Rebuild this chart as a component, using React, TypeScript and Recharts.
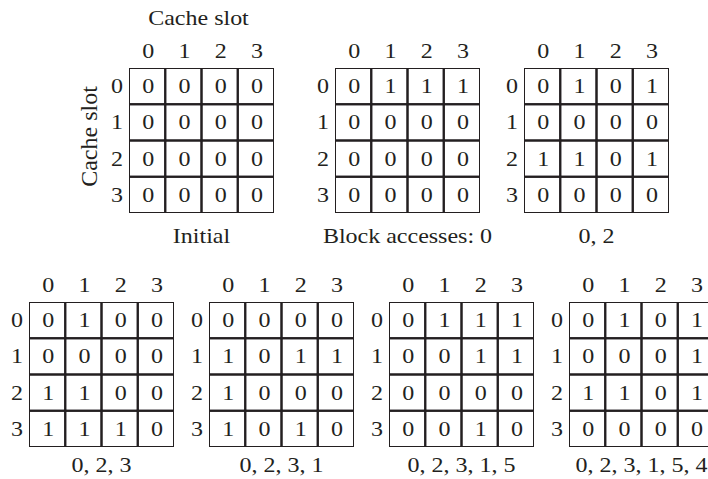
import React from 'react';
import { ScatterChart, Scatter, XAxis, YAxis, Label } from 'recharts';

// cache slot indices (rows and columns)
const SLOTS = [0, 1, 2, 3];

// matrix state after each sequence of block accesses
const INITIAL = [
  [0, 0, 0, 0],
  [0, 0, 0, 0],
  [0, 0, 0, 0],
  [0, 0, 0, 0],
];
const AFTER_0 = [
  [0, 1, 1, 1],
  [0, 0, 0, 0],
  [0, 0, 0, 0],
  [0, 0, 0, 0],
];
const AFTER_02 = [
  [0, 1, 0, 1],
  [0, 0, 0, 0],
  [1, 1, 0, 1],
  [0, 0, 0, 0],
];
const AFTER_023 = [
  [0, 1, 0, 0],
  [0, 0, 0, 0],
  [1, 1, 0, 0],
  [1, 1, 1, 0],
];
const AFTER_0231 = [
  [0, 0, 0, 0],
  [1, 0, 1, 1],
  [1, 0, 0, 0],
  [1, 0, 1, 0],
];
const AFTER_02315 = [
  [0, 1, 1, 1],
  [0, 0, 1, 1],
  [0, 0, 0, 0],
  [0, 0, 1, 0],
];
const AFTER_023154 = [
  [0, 1, 0, 1],
  [0, 0, 0, 1],
  [1, 1, 0, 1],
  [0, 0, 0, 0],
];

const CAPTIONS = ['Initial', 'Block accesses: 0', '0, 2', '0, 2, 3', '0, 2, 3, 1', '0, 2, 3, 1, 5', '0, 2, 3, 1, 5, 4'];
const AXIS_TITLE = 'Cache slot';

const FONT = '"Liberation Serif", "Times New Roman", serif';
const INK = '#231f20';
const GRID = 145;
const CELL = GRID / 4;
const Y_AXIS_W = 28;
const X_AXIS_H = 28;
const SIDE = 40; // spare room so long captions are not clipped

// grid top-left corners on the page
const PANELS = [
  { cells: INITIAL, left: 129, top: 68, titles: true, capGap: 30 },
  { cells: AFTER_0, left: 335, top: 68, titles: false, capGap: 30 },
  { cells: AFTER_02, left: 524, top: 68, titles: false, capGap: 30 },
  { cells: AFTER_023, left: 29, top: 302, titles: false, capGap: 25 },
  { cells: AFTER_0231, left: 209, top: 302, titles: false, capGap: 25 },
  { cells: AFTER_02315, left: 389, top: 302, titles: false, capGap: 25 },
  { cells: AFTER_023154, left: 569, top: 302, titles: false, capGap: 25 },
];

// the source type is a bit wider than it is tall
function WideText({ x, y, anchor = 'middle', children }: any) {
  return (
    <text
      transform={`translate(${x} ${y}) scale(1.2 1)`}
      textAnchor={anchor}
      fontFamily={FONT}
      fontSize={20}
      fill={INK}
    >
      {children}
    </text>
  );
}

function ColTick({ x, y, payload }: any) {
  return <WideText x={x + 1} y={y}>{payload.value}</WideText>;
}

function RowTick({ x, y, payload }: any) {
  return <WideText x={x} y={y + 7} anchor="end">{payload.value}</WideText>;
}

function CellShape({ cx, cy, payload }: any) {
  return (
    <g>
      <rect
        x={cx - CELL / 2}
        y={cy - CELL / 2}
        width={CELL}
        height={CELL}
        fill="none"
        stroke={INK}
        strokeWidth={2}
      />
      <WideText x={cx + 1} y={cy + 7}>{payload.value}</WideText>
    </g>
  );
}

function Panel({ panel, caption }: any) {
  const padLeft = (panel.titles ? 40 : 0) + SIDE;
  const padTop = panel.titles ? 40 : 0;
  const width = padLeft + Y_AXIS_W + GRID + SIDE;
  const height = padTop + X_AXIS_H + GRID + 40;
  const data = panel.cells.flatMap((row: number[], r: number) =>
    row.map((value, c) => ({ row: SLOTS[r], col: SLOTS[c], value }))
  );

  return (
    <div
      style={{
        position: 'absolute',
        left: panel.left - padLeft - Y_AXIS_W,
        top: panel.top - padTop - X_AXIS_H,
      }}
    >
      <ScatterChart width={width} height={height} margin={{ top: padTop, right: SIDE, bottom: 40, left: padLeft }}>
        <XAxis
          type="number"
          dataKey="col"
          orientation="top"
          domain={[-0.5, 3.5]}
          ticks={SLOTS}
          height={X_AXIS_H}
          axisLine={false}
          tickLine={false}
          tickSize={0}
          tickMargin={10}
          tick={<ColTick />}
          allowDataOverflow
        >
          <Label
            content={({ viewBox }: any) => (
              <g>
                {panel.titles && (
                  <WideText x={viewBox.x + viewBox.width / 2 - 3} y={viewBox.y - 15}>
                    {AXIS_TITLE}
                  </WideText>
                )}
                <WideText x={viewBox.x + viewBox.width / 2} y={viewBox.y + viewBox.height + GRID + panel.capGap}>
                  {caption}
                </WideText>
              </g>
            )}
          />
        </XAxis>
        <YAxis
          type="number"
          dataKey="row"
          reversed
          domain={[-0.5, 3.5]}
          ticks={SLOTS}
          width={Y_AXIS_W}
          axisLine={false}
          tickLine={false}
          tickSize={0}
          tickMargin={6}
          tick={<RowTick />}
          allowDataOverflow
        >
          {panel.titles && (
            <Label
              content={({ viewBox }: any) => {
                const lx = viewBox.x + SIDE - SIDE - 4;
                const ly = viewBox.y + viewBox.height / 2 - 4;
                return (
                  <text
                    transform={`translate(${lx} ${ly}) rotate(-90)`}
                    textAnchor="middle"
                    fontFamily={FONT}
                    fontSize={24}
                    fill={INK}
                  >
                    {AXIS_TITLE}
                  </text>
                );
              }}
            />
          )}
        </YAxis>
        <Scatter data={data} shape={<CellShape />} isAnimationActive={false} />
      </ScatterChart>
    </div>
  );
}

export default function App() {
  return (
    <div
      style={{
        position: 'absolute',
        left: 0,
        top: 0,
        width: 708,
        height: 479,
        overflow: 'hidden',
        background: '#fff',
      }}
    >
      {PANELS.map((panel, i) => (
        <Panel key={i} panel={panel} caption={CAPTIONS[i]} />
      ))}
    </div>
  );
}
